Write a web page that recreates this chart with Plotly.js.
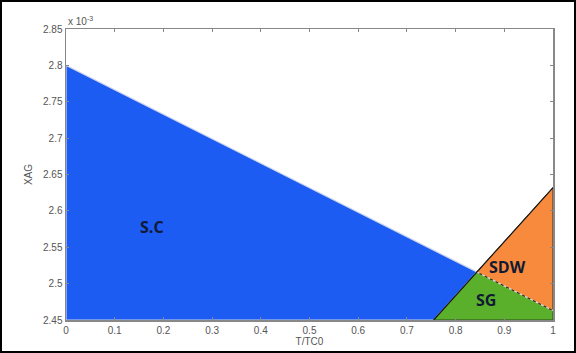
<!DOCTYPE html>
<html><head><meta charset="utf-8">
<script src="https://cdn.plot.ly/plotly-3.0.1.min.js"></script>
<style>
html,body{margin:0;padding:0;background:#fff;}
#frame{width:572px;height:349px;border:2px solid #000;overflow:hidden;}
</style></head>
<body><div id="frame"><div id="chart"></div></div>
<script>
// Phase-region boundaries (T/TC0, XAG in units of 1e-3)
const scX = [0, 0, 0.8435, 0.755, 0];
const scY = [2.45, 2.80, 2.516, 2.45, 2.45];
const sgX = [0.755, 0.8435, 1, 1, 0.755];
const sgY = [2.45, 2.516, 2.463, 2.45, 2.45];
const sdwX = [0.8435, 1, 1, 0.8435];
const sdwY = [2.516, 2.632, 2.463, 2.516];
const regionNames = ['S.C', 'SG', 'SDW'];
const labelX = [0.177, 0.862, 0.906];
const labelY = [2.578, 2.477, 2.523];
const xTicks = [0, 0.1, 0.2, 0.3, 0.4, 0.5, 0.6, 0.7, 0.8, 0.9, 1];
const yTicks = [2.45, 2.5, 2.55, 2.6, 2.65, 2.7, 2.75, 2.8, 2.85];
const yTickText = ['2.45', '2.5', '2.55', '2.6', '2.65', '2.7', '2.75', '2.8', '2.85'];

const traces = [
  {x: scX, y: scY, type: 'scatter', mode: 'lines', fill: 'toself',
   fillcolor: '#1d5cf3', line: {color: '#c9d3ea', width: 1.2}, hoverinfo: 'skip'},
  {x: sgX, y: sgY, type: 'scatter', mode: 'lines', fill: 'toself',
   fillcolor: '#5bb02b', line: {color: '#2c4a1a', width: 1}, hoverinfo: 'skip'},
  {x: sdwX, y: sdwY, type: 'scatter', mode: 'lines', fill: 'toself',
   fillcolor: '#f78a3c', line: {color: '#3a2a1a', width: 1}, hoverinfo: 'skip'},
  // SG/SDW boundary (light)
  {x: [sgX[1], sgX[2]], y: [sgY[1], sgY[2]], type: 'scatter', mode: 'lines',
   line: {color: '#d8d8d8', width: 1.5, dash: 'dot'}, hoverinfo: 'skip'},
  // SC/SG black boundary
  {x: [sgX[0], sdwX[1]], y: [sgY[0], sdwY[1]], type: 'scatter', mode: 'lines',
   line: {color: '#1a1a1a', width: 1.2}, hoverinfo: 'skip'}
];

const annotations = regionNames.map((t, i) => ({
  x: labelX[i], y: labelY[i], xref: 'x', yref: 'y', text: '<b>' + t + '</b>',
  showarrow: false, font: {family: 'Open Sans, Liberation Sans, Arial, sans-serif', size: 16, color: '#111a33'}
}));
annotations.push({x: 0, y: 1, xref: 'paper', yref: 'paper', xanchor: 'left', yanchor: 'bottom',
  text: 'x 10<sup>-3</sup>', showarrow: false,
  font: {family: 'Liberation Sans, Arial, sans-serif', size: 10, color: '#555'}});

const axisFont = {family: 'Liberation Sans, Arial, sans-serif', size: 10, color: '#555'};
const layout = {
  width: 572, height: 349,
  margin: {l: 64, r: 21, t: 27, b: 31},
  paper_bgcolor: '#fff', plot_bgcolor: '#fff',
  showlegend: false,
  xaxis: {range: [0, 1], tickvals: xTicks, ticks: 'inside', ticklen: 3, tickcolor: '#888',
    showline: true, linecolor: '#888', linewidth: 1.5, mirror: 'ticks', showgrid: false, zeroline: false,
    tickfont: axisFont, title: {text: 'T/TC0', font: axisFont, standoff: 2}},
  yaxis: {range: [2.45, 2.85], tickvals: yTicks, ticktext: yTickText, ticks: 'inside', ticklen: 3, tickcolor: '#888',
    showline: true, linecolor: '#888', linewidth: 1.5, mirror: 'ticks', showgrid: false, zeroline: false,
    tickfont: axisFont, title: {text: 'XAG', font: axisFont, standoff: 8}},
  annotations: annotations
};
Plotly.newPlot('chart', traces, layout, {displayModeBar: false, staticPlot: true});
</script></body></html>
